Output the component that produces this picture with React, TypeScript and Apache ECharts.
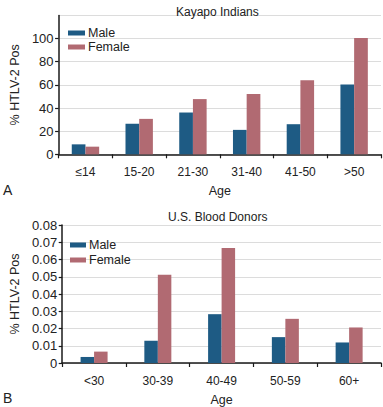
import React, { useEffect, useRef } from "react";
import * as echarts from "echarts";

const kayapoAges = ["≤14", "15-20", "21-30", "31-40", "41-50", ">50"];
const kayapoMale = [8.6, 26.3, 36.1, 21.1, 26, 60.4];
const kayapoFemale = [6.6, 30.6, 47.7, 52, 64, 100.5];

const donorAges = ["<30", "30-39", "40-49", "50-59", "60+"];
const donorMale = [0.0035, 0.0129, 0.0283, 0.015, 0.0119];
const donorFemale = [0.0066, 0.0511, 0.0667, 0.0256, 0.0206];

const MALE = "#1e5b84";
const FEMALE = "#b16a72";
const FONT = "Liberation Sans, Arial, sans-serif";
const TEXT = "#222";

export default function App() {
  const ref = useRef<HTMLDivElement>(null);
  useEffect(() => {
    const chart = echarts.init(ref.current!, null, { renderer: "svg" });
    const axisLine = { lineStyle: { color: "#1a1a1a", width: 1.5 } };
    const xAxisCommon = (data: string[], gridIndex: number) => ({
      type: "category",
      gridIndex,
      data,
      name: "Age",
      nameLocation: "middle",
      nameGap: 30,
      nameTextStyle: { fontFamily: FONT, fontSize: 12.5, color: TEXT },
      axisLine,
      axisTick: { show: true, length: 4, lineStyle: { color: "#1a1a1a", width: 1.2 } },
      axisLabel: { fontFamily: FONT, fontSize: 12, color: TEXT, margin: 12 },
    });
    const yAxisCommon = (gridIndex: number, max: number, interval: number, showMax: boolean) => ({
      type: "value",
      gridIndex,
      min: 0,
      max,
      interval,
      name: "% HTLV-2 Pos",
      nameLocation: "middle",
      nameRotate: 90,
      nameGap: 31,
      nameTextStyle: { fontFamily: FONT, fontSize: 12.5, color: TEXT },
      axisLine: { show: true, ...axisLine },
      axisTick: { show: true, length: 3.5, lineStyle: { color: "#1a1a1a", width: 1.2 } },
      axisLabel: { fontFamily: FONT, fontSize: 13, color: TEXT, margin: 5, showMaxLabel: showMax },
      splitLine: { show: true, lineStyle: { color: "#dcdcdc", width: 1 } },
    });
    chart.setOption({
      animation: false,
      title: [
        { text: "Kayapo Indians", left: 171, top: 1, textStyle: { fontFamily: FONT, fontSize: 12, fontWeight: "normal", color: TEXT } },
        { text: "U.S. Blood Donors", left: 163, top: 206, textStyle: { fontFamily: FONT, fontSize: 12, fontWeight: "normal", color: TEXT } },
      ],
      legend: [
        {
          orient: "vertical",
          left: 63,
          top: 21,
          itemWidth: 17,
          itemHeight: 5,
          itemGap: 0,
          icon: "rect",
          data: ["Male", "Female"],
          textStyle: { fontFamily: FONT, fontSize: 12.5, color: TEXT, lineHeight: 14, padding: [0, 0, 0, -2] },
        },
        {
          orient: "vertical",
          left: 65,
          top: 233,
          itemWidth: 16,
          itemHeight: 5,
          itemGap: 1,
          icon: "rect",
          data: ["Male", "Female"],
          textStyle: { fontFamily: FONT, fontSize: 12.5, color: TEXT, lineHeight: 14, padding: [0, 0, 0, -2] },
        },
      ],
      grid: [
        { left: 50, right: 2, top: 15.4, height: 138.9 },
        { left: 50, right: 2, top: 225, height: 138.3 },
      ],
      xAxis: [xAxisCommon(kayapoAges, 0), xAxisCommon(donorAges, 1)],
      yAxis: [yAxisCommon(0, 120, 20, false), yAxisCommon(1, 0.08, 0.01, true)],
      graphic: [
        { type: "text", left: 3, top: 183, style: { text: "A", fontFamily: FONT, fontSize: 14, fill: TEXT } },
        { type: "text", left: 3, top: 391, style: { text: "B", fontFamily: FONT, fontSize: 14, fill: TEXT } },
      ],
      series: [
        { name: "Male", type: "bar", xAxisIndex: 0, yAxisIndex: 0, data: kayapoMale, barWidth: 13.7, barGap: "0%", itemStyle: { color: MALE } },
        { name: "Female", type: "bar", xAxisIndex: 0, yAxisIndex: 0, data: kayapoFemale, barWidth: 13.7, barGap: "0%", itemStyle: { color: FEMALE } },
        { name: "Male", type: "bar", xAxisIndex: 1, yAxisIndex: 1, data: donorMale, barWidth: 13.5, barGap: "0%", itemStyle: { color: MALE } },
        { name: "Female", type: "bar", xAxisIndex: 1, yAxisIndex: 1, data: donorFemale, barWidth: 13.5, barGap: "0%", itemStyle: { color: FEMALE } },
      ],
    });
    return () => chart.dispose();
  }, []);
  return (
    <div
      ref={ref}
      style={{ position: "fixed", left: 0, top: 0, width: 383, height: 407, background: "#fff" }}
    />
  );
}
